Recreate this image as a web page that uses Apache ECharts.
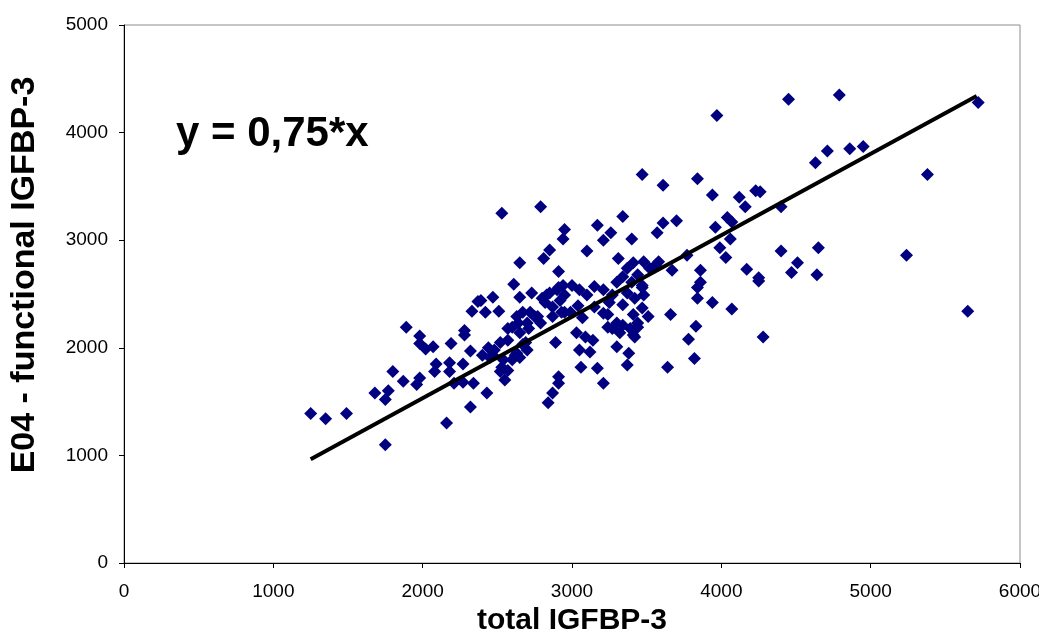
<!DOCTYPE html>
<html>
<head>
	<meta charset="utf-8">
	<title>IGFBP-3</title>
	<script src="https://cdn.jsdelivr.net/npm/echarts@6/dist/echarts.min.js"></script>
	<style>
		html, body { margin: 0; padding: 0; background: #fff; }
	</style>
</head>
<body>
	<div id="main" style="width: 1039px;height:629px;"></div>

	<script>
		// total IGFBP-3 (x) and E04 functional IGFBP-3 (y)
		var totalIGFBP3 = [
			1250, 1350, 1490, 1750, 1680, 1750, 1770, 1800, 1870, 1890,
			1960, 1980, 1980, 1980, 2020, 2070, 2080, 2090, 2160, 2180,
			2190, 2180, 2210, 2270, 2270, 2280, 2280, 2320, 2320, 2330,
			2340, 2370, 2390, 2470, 2420, 2510, 2530, 2790, 2650, 2610,
			2650, 2730, 2800, 2850, 2910, 2950, 3000, 3050, 3100, 3150,
			3210, 3250, 3150, 3210, 3040, 3070, 2990, 2930, 2870, 2820,
			2770, 2720, 2670, 2630, 2640, 2700, 2600, 2650, 2570, 2690,
			2630, 2570, 2520, 2480, 2440, 2400, 2450, 2540, 2530, 2550,
			2600, 2430, 2890, 3030, 3090, 3140, 3050, 3120, 3060, 3170,
			3210, 2910, 2910, 2870, 2840, 3240, 3300, 3340, 3320, 3440,
			3410, 3470, 3410, 3300, 3380, 3370, 3270, 3340, 3170, 2950,
			2940, 3210, 3260, 3400, 2850, 2810, 3100, 2910, 3310, 3410,
			3480, 3370, 3520, 3340, 3440, 3560, 3300, 3400, 3470, 3370,
			3420, 3340, 3240, 3510, 3440, 3390, 2830, 2900, 2940, 2920,
			2870, 2950, 2790, 2710, 2750, 2670, 2700, 2620, 2650, 2570,
			2520, 2470, 3270, 3420, 3970, 4450, 4630, 3470, 3610, 3840,
			3940, 4120, 4160, 4230, 4260, 4400, 3610, 3700, 3570, 3960,
			4040, 4070, 4060, 3990, 4030, 3770, 3580, 3670, 3860, 4170,
			4250, 4400, 4510, 4470, 4650, 4640, 3860, 3840, 3840, 3940,
			4070, 3470, 3480, 3660, 3830, 3780, 3820, 3640, 4280, 4250,
			4790, 5720, 4710, 4860, 4950, 5380, 5240, 5650
		];
		var functionalIGFBP3 = [
			1390, 1340, 1390, 1100, 1580, 1520, 1600, 1780, 1690, 2190,
			1660, 1720, 2110, 2040, 1990, 2010, 1780, 1850, 1300, 1860,
			2040, 1780, 1670, 1850, 1680, 2160, 2120, 1970, 1450, 2340,
			1670, 2430, 2440, 2470, 2330, 2340, 3250, 3310, 2790, 2590,
			2470, 2510, 2460, 2510, 2560, 2490, 2580, 2540, 2490, 2570,
			2540, 2420, 2380, 2320, 2390, 2280, 2330, 2330, 2290, 2420,
			2290, 2330, 2330, 2290, 2230, 2230, 2190, 2140, 2180, 2050,
			1950, 2070, 2050, 1980, 2000, 1930, 1910, 1890, 1820, 1700,
			1890, 1580, 2050, 2140, 2100, 2070, 1980, 1960, 1820, 1810,
			1670, 1730, 1670, 1580, 1490, 2190, 2230, 2210, 2140, 2190,
			2120, 2370, 2310, 2010, 1950, 1840, 2490, 3220, 3140, 3100,
			3010, 3000, 3070, 3010, 2910, 2830, 2900, 2710, 2830, 2790,
			2800, 2740, 2740, 2660, 2680, 2770, 2610, 2610, 2560, 2510,
			2460, 2400, 2310, 2290, 2230, 2180, 2490, 2540, 2580, 2440,
			2380, 2330, 2230, 2180, 2290, 2030, 1980, 1930, 1910, 1790,
			1780, 1930, 2180, 2100, 4160, 4310, 3720, 3610, 3510, 3570,
			3420, 3400, 3310, 3460, 3450, 3310, 3160, 3180, 3070, 3120,
			3210, 3170, 3010, 2930, 2840, 2860, 2800, 2720, 2720, 2730,
			2650, 2900, 2790, 2700, 2930, 2680, 2610, 2560, 2460, 2420,
			2360, 2580, 2490, 2310, 2200, 2080, 1900, 1820, 2100, 2620,
			4350, 4280, 3830, 3850, 3870, 3610, 2860, 2340
		];

		// regression line y = 0,75*x, end points
		var trendX = [1250, 5710];
		var trendY = [965, 4340];

		var xTicks = [0, 1000, 2000, 3000, 4000, 5000, 6000];
		var yTicks = [0, 1000, 2000, 3000, 4000, 5000];

		var points = totalIGFBP3.map(function (x, i) {
			return [x, functionalIGFBP3[i]];
		});
		var trend = trendX.map(function (x, i) {
			return [x, trendY[i]];
		});

		var font = 'Arial, "Liberation Sans", sans-serif';

		var myChart = echarts.init(document.getElementById('main'));

		myChart.setOption({
			animation: false,
			backgroundColor: '#ffffff',
			grid: {
				left: 124,
				right: 19,
				top: 25,
				bottom: 66,
				outerBoundsMode: 'none',
				show: true,
				borderColor: '#8c8c8c',
				borderWidth: 1
			},
			graphic: [{
				type: 'text',
				left: 176,
				top: 113,
				style: {
					text: 'y = 0,75*x',
					font: 'bold 42px ' + font,
					fill: '#000'
				}
			}],
			xAxis: {
				type: 'value',
				min: xTicks[0],
				max: xTicks[xTicks.length - 1],
				interval: 1000,
				name: 'total IGFBP-3',
				nameLocation: 'middle',
				nameGap: 35,
				nameTextStyle: { fontFamily: font, fontWeight: 'bold', fontSize: 30, color: '#000' },
				axisLine: { lineStyle: { color: '#000', width: 1 } },
				axisTick: { length: 5, lineStyle: { color: '#000' } },
				axisLabel: {
					fontFamily: font, fontSize: 19, color: '#000', margin: 19,
					formatter: function (v) { return String(v); }
				},
				splitLine: { show: false }
			},
			yAxis: {
				type: 'value',
				min: yTicks[0],
				max: yTicks[yTicks.length - 1],
				interval: 1000,
				name: 'E04 - functional IGFBP-3',
				nameLocation: 'middle',
				nameGap: 82,
				nameTextStyle: {
					fontFamily: font, fontWeight: 'bold', fontSize: 34, color: '#000',
					padding: [0, 0, 0, 38]
				},
				axisLine: { show: true, lineStyle: { color: '#000', width: 1 } },
				axisTick: { show: true, length: 5, lineStyle: { color: '#000' } },
				axisLabel: {
					fontFamily: font, fontSize: 19, color: '#000', margin: 16,
					formatter: function (v) { return String(v); }
				},
				splitLine: { show: false }
			},
			series: [{
				name: 'samples',
				type: 'scatter',
				symbol: 'diamond',
				symbolSize: 13,
				itemStyle: { color: '#000080', opacity: 1 },
				data: points
			}, {
				name: 'trend',
				type: 'line',
				showSymbol: false,
				symbol: 'none',
				lineStyle: { color: '#000', width: 4 },
				data: trend
			}]
		});
	</script>
</body>
</html>
